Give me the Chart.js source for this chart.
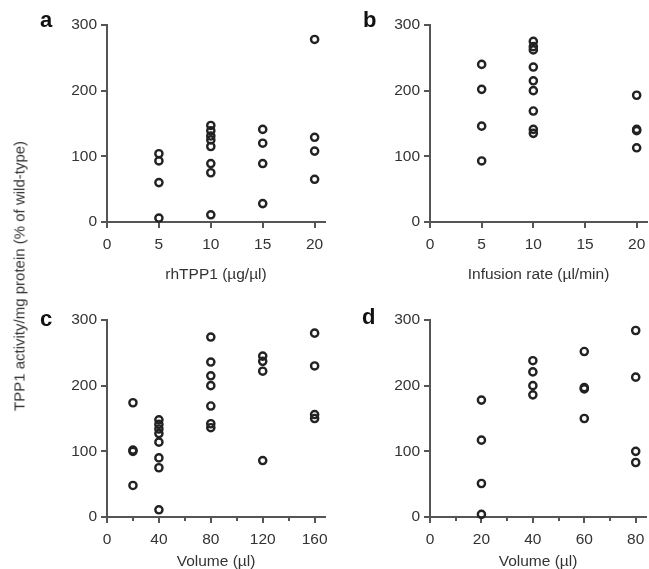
<!DOCTYPE html>
<html><head><meta charset="utf-8">
<script src="https://cdn.jsdelivr.net/npm/chart.js@4.4.1/dist/chart.umd.min.js"></script>
<style>
html,body{margin:0;padding:0;background:#fff;}
#wrap{position:relative;width:649px;height:569px;overflow:hidden;font-family:"Liberation Sans",Arial,sans-serif;}
.panel{position:absolute;}
.letter{position:absolute;font-weight:bold;font-size:22px;color:#111;line-height:1;}
#ytitle{position:absolute;left:19px;top:276px;transform:translate(-50%,-50%) rotate(-90deg);white-space:nowrap;font-size:15px;color:#333;}
</style></head><body>
<div id="wrap">
  <div class="panel" style="left:0;top:0;width:350px;height:285px"><canvas id="ca"></canvas></div>
  <div class="panel" style="left:330px;top:0;width:340px;height:285px"><canvas id="cb"></canvas></div>
  <div class="panel" style="left:0;top:280px;width:350px;height:289px"><canvas id="cc"></canvas></div>
  <div class="panel" style="left:330px;top:280px;width:340px;height:289px"><canvas id="cd"></canvas></div>
  <div class="letter" style="left:40px;top:9px">a</div>
  <div class="letter" style="left:363px;top:9px">b</div>
  <div class="letter" style="left:40px;top:308px">c</div>
  <div class="letter" style="left:362px;top:306px">d</div>
  <div id="ytitle">TPP1 activity/mg protein (% of wild-type)</div>
</div>
<script>
// ---- data ----
const yTicks = [0, 100, 200, 300];

const xTicksA = [0, 5, 10, 15, 20];
const catA = [5, 10, 15, 20];
const valsA = [
  [104, 93, 60, 6],
  [147, 139, 131, 125, 115, 89, 75, 11],
  [141, 120, 89, 28],
  [278, 129, 108, 65]
];

const xTicksB = [0, 5, 10, 15, 20];
const catB = [5, 10, 20];
const valsB = [
  [240, 202, 146, 93],
  [275, 267, 262, 236, 215, 200, 169, 141, 135],
  [193, 141, 139, 113]
];

const xTicksC = [0, 40, 80, 120, 160];
const xMinorC = [20, 60, 100, 140];
const catC = [20, 40, 80, 120, 160];
const valsC = [
  [174, 102, 100, 48],
  [148, 141, 134, 127, 114, 90, 75, 11],
  [274, 236, 215, 200, 169, 142, 136],
  [245, 237, 222, 86],
  [280, 230, 156, 150]
];

const xTicksD = [0, 20, 40, 60, 80];
const xMinorD = [10, 30, 50, 70];
const catD = [20, 40, 60, 80];
const valsD = [
  [178, 117, 51, 4],
  [238, 221, 200, 186],
  [252, 197, 195, 150],
  [284, 213, 100, 83]
];

// ---- drawing ----
const axisColor = '#555';
const txtColor = '#333';
const font = {family: '"Liberation Sans", Arial, sans-serif', size: 15.5};
const titleFont = {family: '"Liberation Sans", Arial, sans-serif', size: 15.5, lineHeight: 1};

function makeChart(id, cats, vals, xTicks, minor, xMax, xTitle, pad, xH) {
  const pts = cats.flatMap((x, i) => vals[i].map(y => ({x, y})));
  const scales = {
    x: {
      type: 'linear', position: 'bottom', min: 0, max: xMax, weight: 1,
      afterBuildTicks: s => { s.ticks = xTicks.map(v => ({value: v})); },
      afterFit: s => { s.height = xH; },
      grid: {drawOnChartArea: false, drawTicks: true, tickLength: 6, color: axisColor, lineWidth: 2},
      border: {display: true, color: axisColor, width: 2},
      ticks: {color: txtColor, font, padding: 7, maxRotation: 0, autoSkip: false},
      title: {display: true, text: xTitle, color: txtColor, font: titleFont, padding: 0}
    },
    y: {
      type: 'linear', position: 'left', min: 0, max: 300,
      afterBuildTicks: s => { s.ticks = yTicks.map(v => ({value: v})); },
      afterFit: s => { s.width = 45; },
      grid: {drawOnChartArea: false, drawTicks: true, tickLength: 6, color: axisColor, lineWidth: 2},
      border: {display: true, color: axisColor, width: 2},
      ticks: {color: txtColor, font, padding: 4, autoSkip: false}
    }
  };
  if (minor) {
    scales.xm = {
      type: 'linear', position: 'bottom', min: 0, max: xMax, weight: 0,
      afterBuildTicks: s => { s.ticks = minor.map(v => ({value: v})); },
      afterFit: s => { s.height = 0; },
      grid: {drawOnChartArea: false, drawTicks: true, tickLength: 4, color: axisColor, lineWidth: 2},
      border: {display: false},
      ticks: {display: false}
    };
  }
  return new Chart(document.getElementById(id), {
    type: 'scatter',
    data: {datasets: [{
      data: pts,
      pointRadius: 3.6, pointHoverRadius: 3.6, pointBorderWidth: 2.4,
      pointBorderColor: '#222', pointBackgroundColor: 'rgba(0,0,0,0)',
      borderColor: '#222', backgroundColor: 'rgba(0,0,0,0)', clip: false
    }]},
    options: {
      responsive: true, maintainAspectRatio: false, animation: false, devicePixelRatio: 1,
      events: [],
      layout: {padding: pad},
      plugins: {legend: {display: false}, tooltip: {enabled: false}},
      scales
    }
  });
}

makeChart('ca', catA, valsA, xTicksA, null, 21, 'rhTPP1 (\u00b5g/\u00b5l)', {left: 62, right: 25, top: 25, bottom: 3}, 60);
makeChart('cb', catB, valsB, xTicksB, null, 21, 'Infusion rate (\u00b5l/min)', {left: 55, right: 23, top: 25, bottom: 3}, 60);
makeChart('cc', catC, valsC, xTicksC, xMinorC, 168, 'Volume (\u00b5l)', {left: 62, right: 25, top: 40, bottom: 0}, 52);
makeChart('cd', catD, valsD, xTicksD, xMinorD, 84, 'Volume (\u00b5l)', {left: 55, right: 24, top: 40, bottom: 0}, 52);
</script>
</body></html>
